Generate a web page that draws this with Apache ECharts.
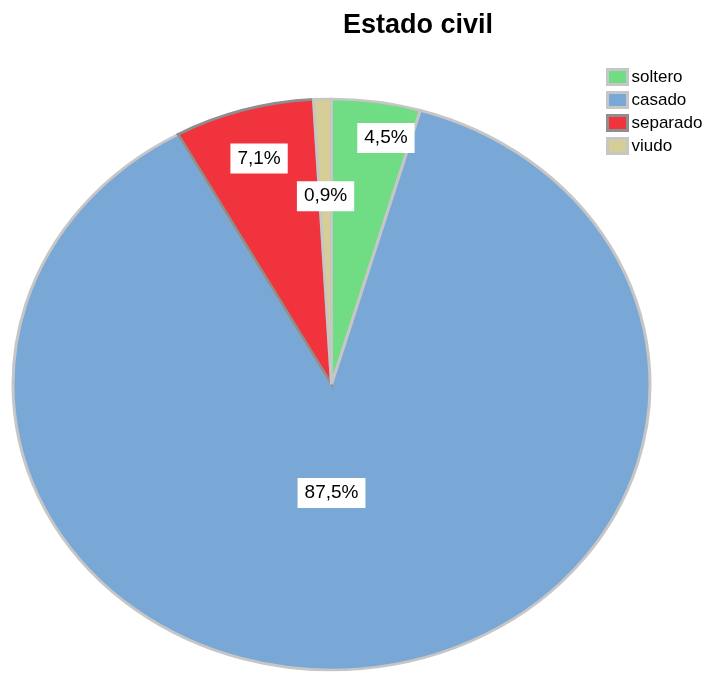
<!DOCTYPE html>
<html>
<head>
<meta charset="utf-8">
<script src="https://cdn.jsdelivr.net/npm/echarts@6/dist/echarts.min.js"></script>
<style>
  html, body { margin: 0; padding: 0; background: #fff; }
  #chart { width: 714px; height: 673px; }
</style>
</head>
<body>
<div id="chart"></div>
<script>
// Marital status shares (percent), drawn clockwise from 12 o'clock
const categories = ['soltero', 'casado', 'separado', 'viudo'];
const percents = [4.5, 87.5, 7.1, 0.9];
const titleText = 'Estado civil';

// Visual styling
const fills = ['#70dd84', '#7aa8d6', '#f0333d', '#d5ce96'];
const edges = ['#c6c6c6', '#c6c6c6', '#8e8e8e', '#c6c6c6'];
// Elliptical pie geometry
const pieGeom = { cx: 331.5, cy: 384.5, rx: 318.5, ry: 285.5 };
// Label placement: radial fraction and small angular nudge (degrees)
const labelRadius = [0.88, 0.38, 0.824, 0.66];
const labelTurn = [3.1, 6.3, 0, 0];

const total = percents.reduce((a, b) => a + b, 0);
const starts = [];
let acc = 0;
percents.forEach(v => { starts.push(acc); acc += v; });

function fmt(v) {
  return v.toFixed(1).replace('.', ',') + '%';
}

function makeRender(i) {
  return function (params, api) {
    const v = api.value(0);
    const g = pieGeom;
    const a0 = starts[i] / total * Math.PI * 2;
    const a1 = (starts[i] + v) / total * Math.PI * 2;
    const mid = (a0 + a1) / 2 + labelTurn[i] * Math.PI / 180;
    const f = labelRadius[i];
    const lx = g.cx + Math.sin(mid) * f * g.rx;
    const ly = g.cy - Math.cos(mid) * f * g.ry;
    return {
      type: 'group',
      children: [
        {
          type: 'sector',
          shape: {
            cx: g.cx, cy: g.cy, r: g.rx, r0: 0,
            startAngle: a0 - Math.PI / 2,
            endAngle: a1 - Math.PI / 2,
            clockwise: true
          },
          originX: g.cx,
          originY: g.cy,
          scaleY: g.ry / g.rx,
          style: {
            fill: fills[i],
            stroke: edges[i],
            lineWidth: 3,
            strokeNoScale: true
          },
          z2: i
        },
        {
          type: 'text',
          z2: 10 + i,
          style: {
            text: fmt(v),
            x: lx,
            y: ly,
            fill: '#000',
            font: '19px "Liberation Sans", Arial, sans-serif',
            align: 'center',
            verticalAlign: 'middle',
            backgroundColor: '#fff',
            padding: [6, 7, 5, 7]
          }
        }
      ]
    };
  };
}

const series = categories.map((name, i) => ({
  type: 'custom',
  name: name,
  coordinateSystem: 'none',
  itemStyle: { color: fills[i] },
  data: [[percents[i]]],
  renderItem: makeRender(i),
  z: 2 + (i === 3 ? 1 : 0)
}));

const chart = echarts.init(document.getElementById('chart'), null, { renderer: 'canvas' });
chart.setOption({
  animation: false,
  backgroundColor: '#fff',
  title: {
    text: titleText,
    left: 413,
    textAlign: 'center',
    top: 7,
    textStyle: {
      fontFamily: '"Liberation Sans", Arial, sans-serif',
      fontWeight: 'bold',
      fontSize: 27,
      color: '#000'
    }
  },
  legend: {
    orient: 'vertical',
    left: 601,
    top: 63,
    icon: 'rect',
    itemWidth: 20,
    itemHeight: 15,
    itemGap: 5,
    textStyle: {
      fontFamily: '"Liberation Sans", Arial, sans-serif',
      fontSize: 17,
      color: '#000',
      padding: [0, 0, 0, -1]
    },
    data: categories.map((name, i) => ({
      name: name,
      itemStyle: { color: fills[i], borderColor: edges[i], borderWidth: 3 }
    }))
  },
  series: series
});
</script>
</body>
</html>
